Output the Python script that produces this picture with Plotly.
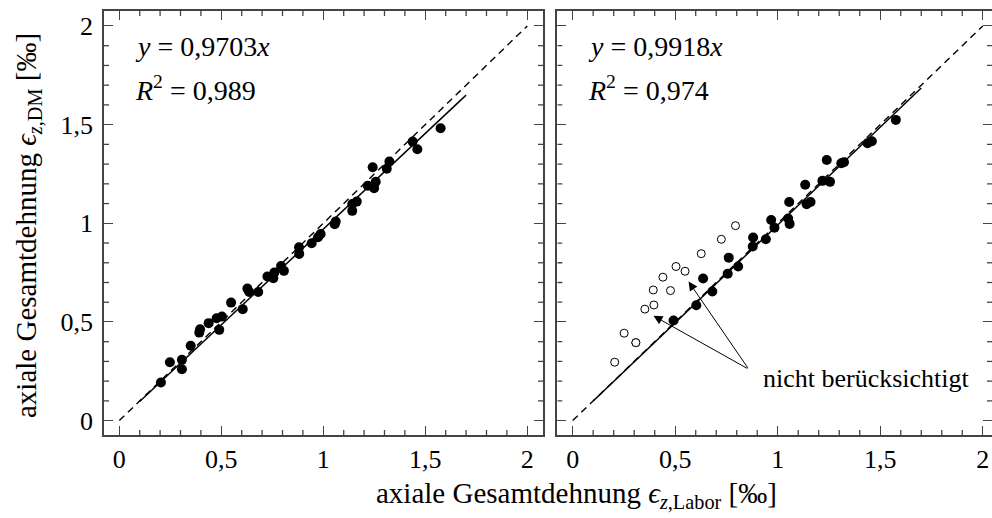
import plotly.graph_objects as go

# ---------------- data ----------------
left_x = [0.204, 0.248, 0.307, 0.307, 0.350, 0.392, 0.396, 0.438, 0.477, 0.503,
          0.490, 0.548, 0.605, 0.628, 0.637, 0.681, 0.726, 0.755, 0.760, 0.793,
          0.807, 0.881, 0.882, 0.943, 0.974, 0.987, 1.056, 1.061, 1.142, 1.142,
          1.164, 1.218, 1.242, 1.249, 1.257, 1.311, 1.324, 1.438, 1.461, 1.575]
left_y = [0.193, 0.296, 0.308, 0.260, 0.379, 0.446, 0.463, 0.494, 0.519, 0.527,
          0.460, 0.598, 0.565, 0.669, 0.652, 0.652, 0.730, 0.722, 0.750, 0.784,
          0.759, 0.879, 0.845, 0.899, 0.929, 0.946, 0.995, 1.009, 1.063, 1.098,
          1.110, 1.190, 1.284, 1.178, 1.211, 1.276, 1.313, 1.414, 1.375, 1.482]

right_fit_x = [0.492, 0.603, 0.636, 0.681, 0.756, 0.761, 0.807, 0.878, 0.880, 0.942,
               0.968, 0.984, 1.051, 1.058, 1.056, 1.134, 1.141, 1.160, 1.218, 1.239,
               1.255, 1.310, 1.323, 1.438, 1.459, 1.576]
right_fit_y = [0.507, 0.585, 0.720, 0.654, 0.744, 0.826, 0.781, 0.882, 0.928, 0.919,
               1.017, 0.978, 1.024, 0.997, 1.108, 1.195, 1.097, 1.108, 1.215, 1.321,
               1.210, 1.304, 1.310, 1.406, 1.416, 1.524]

right_excl_x = [0.205, 0.251, 0.308, 0.308, 0.352, 0.396, 0.393, 0.440, 0.477,
                0.504, 0.548, 0.627, 0.725, 0.794]
right_excl_y = [0.296, 0.443, 0.395, 0.395, 0.565, 0.586, 0.662, 0.727, 0.659,
                0.781, 0.757, 0.846, 0.919, 0.988]

slope_left = 0.9703
slope_right = 0.9918
r2_left = "0,989"
r2_right = "0,974"
fit_x = [0.1, 1.7]
ident_x = [0.0, 2.0]

major_step = 0.5
minor_ticks = [0.1, 0.2, 0.3, 0.4, 0.6, 0.7, 0.8, 0.9,
               1.1, 1.2, 1.3, 1.4, 1.6, 1.7, 1.8, 1.9]

x_title = "axiale Gesamtdehnung <i>ϵ</i><sub><i>z</i>,Labor</sub> [‰]"
y_title = "axiale Gesamtdehnung <i>ϵ</i><sub><i>z</i>,DM</sub> [‰]"
note_text = "nicht berücksichtigt"

# ---------------- figure ----------------
FONT = "Liberation Serif"
FRAME = "#444444"

fig = go.Figure()

def add_panel(xa, ya, slope):
    fig.add_trace(go.Scatter(x=ident_x, y=ident_x, mode="lines",
                             line=dict(color="black", width=1.4, dash="7px,5px"),
                             xaxis=xa, yaxis=ya, showlegend=False, hoverinfo="skip"))
    fig.add_trace(go.Scatter(x=fit_x, y=[slope * v for v in fit_x], mode="lines",
                             line=dict(color="black", width=1.5),
                             xaxis=xa, yaxis=ya, showlegend=False, hoverinfo="skip"))

add_panel("x", "y", slope_left)
add_panel("x2", "y2", slope_right)

fig.add_trace(go.Scatter(x=left_x, y=left_y, mode="markers",
                         marker=dict(color="black", size=10, line=dict(width=0)),
                         xaxis="x", yaxis="y", showlegend=False))
fig.add_trace(go.Scatter(x=right_excl_x, y=right_excl_y, mode="markers",
                         marker=dict(color="white", size=8, line=dict(color="black", width=1)),
                         xaxis="x2", yaxis="y2", showlegend=False))
fig.add_trace(go.Scatter(x=right_fit_x, y=right_fit_y, mode="markers",
                         marker=dict(color="black", size=10, line=dict(width=0)),
                         xaxis="x2", yaxis="y2", showlegend=False))

axis_common = dict(
    automargin=False,
    showgrid=False, zeroline=False, showline=True, linecolor=FRAME, linewidth=1.5,
    mirror="allticks", ticks="inside", ticklen=9, tickwidth=1.3, tickcolor=FRAME,
    tickmode="linear", tick0=0, dtick=major_step,
    tickfont=dict(family=FONT, size=26, color="black"),
)

x_range_left = [-0.075, 2.077]
x_range_right = [-0.075, 2.045]
y_range = [-0.073, 2.076]

fig.update_layout(
    width=992, height=518,
    margin=dict(l=0, r=0, t=0, b=0, autoexpand=False),
    separators=",.",
    paper_bgcolor="white", plot_bgcolor="white",
    font=dict(family=FONT, size=26, color="black"),
    xaxis=dict(domain=[0.10484, 0.54738], range=x_range_left, anchor="y", **axis_common),
    yaxis=dict(domain=[0.1602, 0.9788], range=y_range, anchor="x",
               ticklabelstandoff=4, **axis_common),
    xaxis2=dict(domain=[0.5618, 1.0], range=x_range_right, anchor="y2", **axis_common),
    yaxis2=dict(domain=[0.1602, 0.9788], range=y_range, anchor="x2",
                showticklabels=False, **axis_common),
)

# minor tick marks (every 0.1), placed on the axes' own scales, 5 px long
MINOR_LEN = 5
shapes = []
for xr, yr, xrng in [("x", "y", x_range_left), ("x2", "y2", x_range_right)]:
    for v in minor_ticks:
        tick_line = dict(color=FRAME, width=1.3)
        # bottom and top edges
        for anchor, sign in [(y_range[0], 1), (y_range[1], -1)]:
            shapes.append(dict(type="line", xref=xr, yref=yr, x0=v, x1=v,
                               ysizemode="pixel", yanchor=anchor, y0=0, y1=sign * MINOR_LEN,
                               line=tick_line, layer="above"))
        # left and right edges
        for anchor, sign in [(xrng[0], 1), (xrng[1], -1)]:
            shapes.append(dict(type="line", xref=xr, yref=yr, y0=v, y1=v,
                               xsizemode="pixel", xanchor=anchor, x0=0, x1=sign * MINOR_LEN,
                               line=tick_line, layer="above"))

anns = []
for xr, yr, slope, r2, x0 in [("x", "y", slope_left, r2_left, 0.069),
                              ("x2", "y2", slope_right, r2_right, 0.065)]:
    s = f"{slope:.4f}".replace(".", ",")
    anns.append(dict(x=x0, y=1.894, xref=xr, yref=yr, xanchor="left", yanchor="middle",
                     text=f"<i>y</i> = {s}<i>x</i>", showarrow=False,
                     font=dict(family=FONT, size=28, color="black")))
    anns.append(dict(x=x0, y=1.681, xref=xr, yref=yr, xanchor="left", yanchor="middle",
                     text=f"<i>R</i><sup>2</sup> = {r2}", showarrow=False,
                     font=dict(family=FONT, size=28, color="black")))

# arrows pointing to excluded points
arrow_tail = (0.859, 0.260)
for tip in [(0.394, 0.531), (0.565, 0.705)]:
    anns.append(dict(x=tip[0], y=tip[1], ax=arrow_tail[0], ay=arrow_tail[1],
                     xref="x2", yref="y2", axref="x2", ayref="y2", text="",
                     showarrow=True, arrowhead=2, arrowsize=1.8, arrowwidth=1,
                     arrowcolor="black", standoff=0, startstandoff=0))
anns.append(dict(x=0.916, y=0.211, xref="x2", yref="y2", xanchor="left", yanchor="middle",
                 text=note_text, showarrow=False,
                 font=dict(family=FONT, size=26, color="black")))

# axis titles
anns.append(dict(x=576 / 992, y=1 - 495 / 518, xref="paper", yref="paper",
                 xanchor="center", yanchor="middle", text=x_title, showarrow=False,
                 font=dict(family=FONT, size=29, color="black")))
anns.append(dict(x=28 / 992, y=1 - 226 / 518, xref="paper", yref="paper",
                 xanchor="center", yanchor="middle", text=y_title, showarrow=False,
                 textangle=-90, font=dict(family=FONT, size=29, color="black")))

fig.update_layout(annotations=anns, shapes=shapes)

fig.write_html("out.html", config={"displayModeBar": False},
               post_script="document.body.style.margin='0';document.body.style.overflow='hidden';")
